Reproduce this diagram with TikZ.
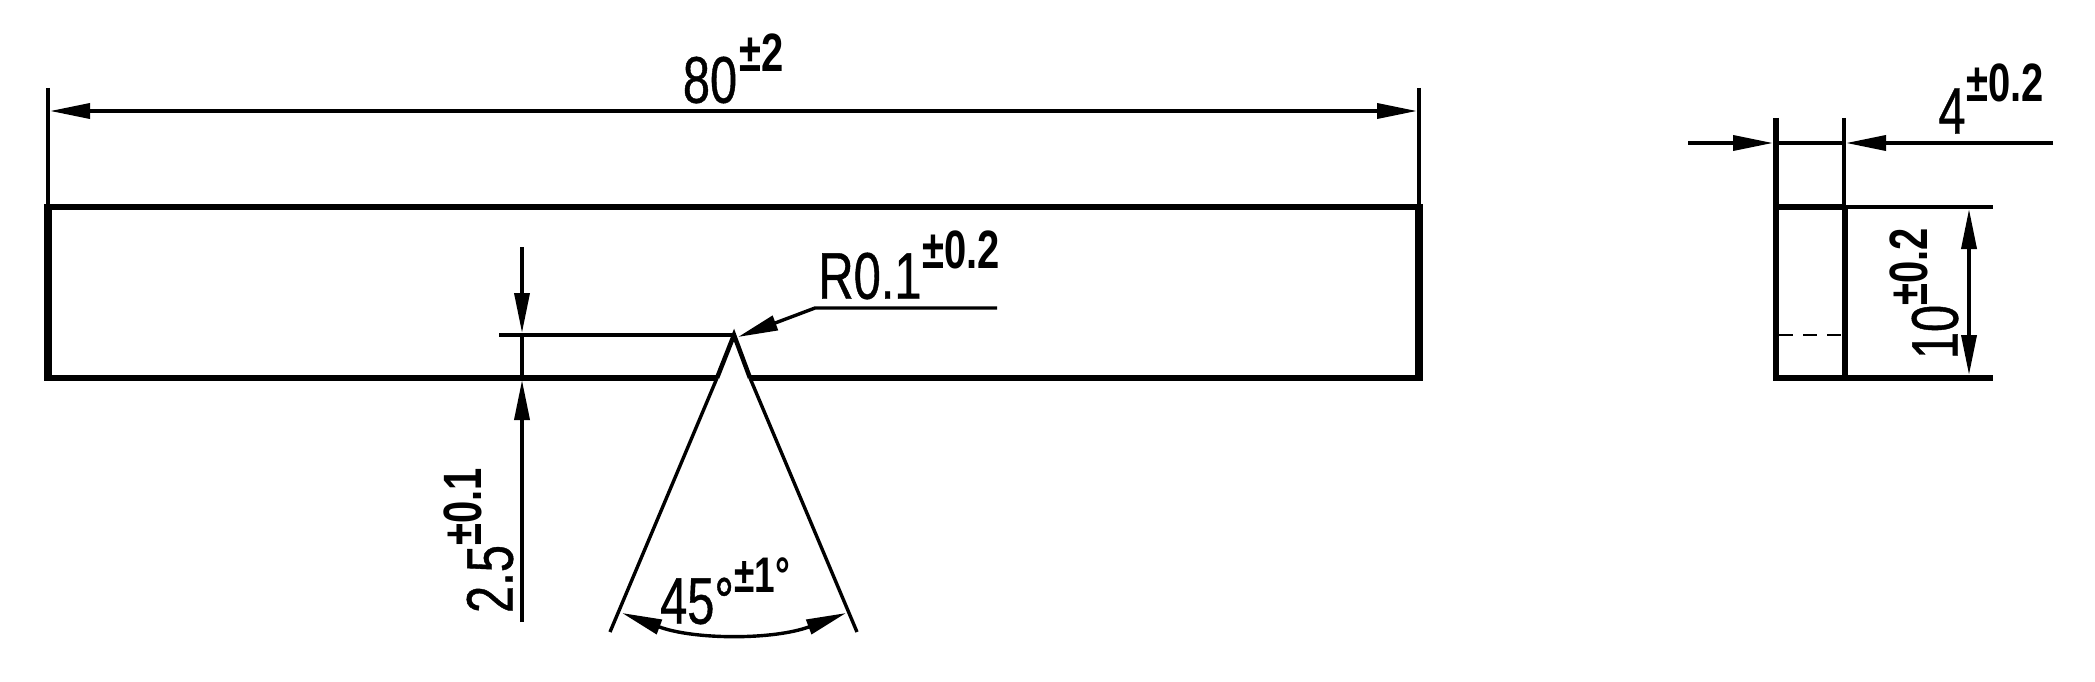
\documentclass[tikz,border=0pt]{standalone}
\usepackage{fontspec}
\usepackage{tikz}
\usetikzlibrary{arrows.meta, positioning}
\newfontfamily\cadfont[FakeStretch=0.74, FakeBold=0.6]{Liberation Sans}
\newfontfamily\tolfont[FakeStretch=0.74]{Liberation Sans Bold}

\begin{document}
\begin{tikzpicture}[
			x=1pt, y=-1pt,
			outline/.style={line width=6pt, miter limit=20},
			side/.style={line width=7.5pt, shorten <=-3pt, shorten >=-3pt},
			endside/.style={line width=6.5pt},
			notchline/.style={line width=4.5pt},
			thin/.style={line width=3.4pt},
			dimline/.style={line width=3.6pt},
			both/.style={dimline, {Triangle[length=40pt, width=15pt]}-{Triangle[length=40pt, width=15pt]}},
			arrow/.style={dimline, -{Triangle[length=40pt, width=15pt]}},
			value/.style={inner sep=0pt, font=\fontsize{66}{66}\selectfont\cadfont},
			tol/.style={inner sep=0pt, font=\fontsize{54}{54}\selectfont\tolfont}
			]
			\useasboundingbox (0,0) rectangle (2095,682);
			
			% Bar
			\coordinate (barTL) at (48,207);
			\coordinate (barTR) at (1419,207);
			\coordinate (barBL) at (48,378);
			\coordinate (barBR) at (1419,378);
			\coordinate (apex) at (734,335);
			\coordinate (notchL) at (717,378);
			\coordinate (notchR) at (750,378);
			\draw[outline] (notchL) -- (barBL) -- (barTL) -- (barTR) -- (barBR) -- (notchR);
			\draw[side] (barTL) -- (barBL);
			\draw[side] (barTR) -- (barBR);
			\draw[notchline] (notchL) -- (apex) -- (notchR);
			
			% Length
			\coordinate (extL) at (48,88);
			\coordinate (extR) at (1419,88);
			\coordinate (lenL) at (50,111);
			\coordinate (lenR) at (1417,111);
			\draw[thin] (extL) -- (barTL);
			\draw[thin] (extR) -- (barTR);
			\draw[both] (lenL) -- (lenR);
			\node[value] (lenText) at (710,80) {80};
			\node[tol] (lenTol) at (762,53) {±2};
			
			% Notch depth
			\coordinate (depthLine) at (499,335);
			\coordinate (depthTop) at (522,247);
			\coordinate (depthTip) at (522,333);
			\coordinate (depthLow) at (522,622);
			\coordinate (depthUp) at (522,380);
			\draw[dimline] (depthLine) -- (apex);
			\draw[arrow] (depthTop) -- (depthTip);
			\draw[arrow] (depthLow) -- (depthUp);
			\draw[dimline] (depthTip) -- (depthUp);
			\node[value, rotate=90] (depthText) at (490,579) {2.5};
			\node[tol, rotate=90] (depthTol) at (463,507) {±0.1};
			
			% Radius
			\coordinate (radEnd) at (997,308);
			\coordinate (radKnee) at (815,308);
			\coordinate (radTip) at (738,337);
			\draw[thin, -{Triangle[length=40pt, width=15pt]}] (radEnd) -- (radKnee) -- (radTip);
			\node[value] (radText) at (870,276) {R0.1};
			\node[tol] (radTol) at (961,250) {±0.2};
			
			% Angle
			\coordinate (angL) at (610,632);
			\coordinate (angR) at (857,632);
			\coordinate (arcL) at (622,613);
			\draw[thin] (notchL) -- (angL);
			\draw[thin] (notchR) -- (angR);
			\draw[thin, {Triangle[length=40pt, width=15pt]}-{Triangle[length=40pt, width=15pt]}] (arcL) arc[start angle=110.5, end angle=69.5, radius=320];
			\node[value] (angText) at (697,601) {45°};
			\node[tol, font=\fontsize{50}{50}\selectfont\tolfont] (angTol) at (762,575) {±1°};
			
			% End view
			\coordinate (endTL) at (1776,207);
			\coordinate (endTR) at (1845,207);
			\coordinate (endBL) at (1776,378);
			\coordinate (endBR) at (1845,378);
			\coordinate (endUpL) at (1776,118);
			\coordinate (endUpR) at (1844,118);
			\coordinate (endTopR) at (1844,207);
			\coordinate (endExtT) at (1993,207);
			\coordinate (endExtB) at (1993,378);
			\coordinate (endDashL) at (1779,335);
			\coordinate (endDashR) at (1842,335);
			\draw[outline] (endUpL) -- (endBL) -- (endExtB);
			\draw[endside] (endTL) -- (endTR);
			\draw[endside] (endTR) -- (endBR);
			\draw[thin] (endUpR) -- (endTopR);
			\draw[thin] (endTR) -- (endExtT);
			\draw[line width=1.5pt, dash pattern=on 14pt off 10pt] (endDashL) -- (endDashR);
			
			% Thickness
			\coordinate (thickL) at (1688,143);
			\coordinate (thickTipL) at (1773,143);
			\coordinate (thickR) at (2053,143);
			\coordinate (thickTipR) at (1846,143);
			\draw[arrow] (thickL) -- (thickTipL);
			\draw[arrow] (thickR) -- (thickTipR);
			\draw[thin] (thickTipL) -- (thickTipR);
			\node[value] (thickText) at (1952,111) {4};
			\node[tol] (thickTol) at (2005,83) {±0.2};
			
			% Width
			\coordinate (wideT) at (1969,209);
			\coordinate (wideB) at (1969,375);
			\draw[both] (wideT) -- (wideB);
			\node[value, rotate=90] (wideText) at (1935,332) {10};
			\node[tol, rotate=90] (wideTol) at (1909,267) {±0.2};
			
		\end{tikzpicture}
\end{document}
